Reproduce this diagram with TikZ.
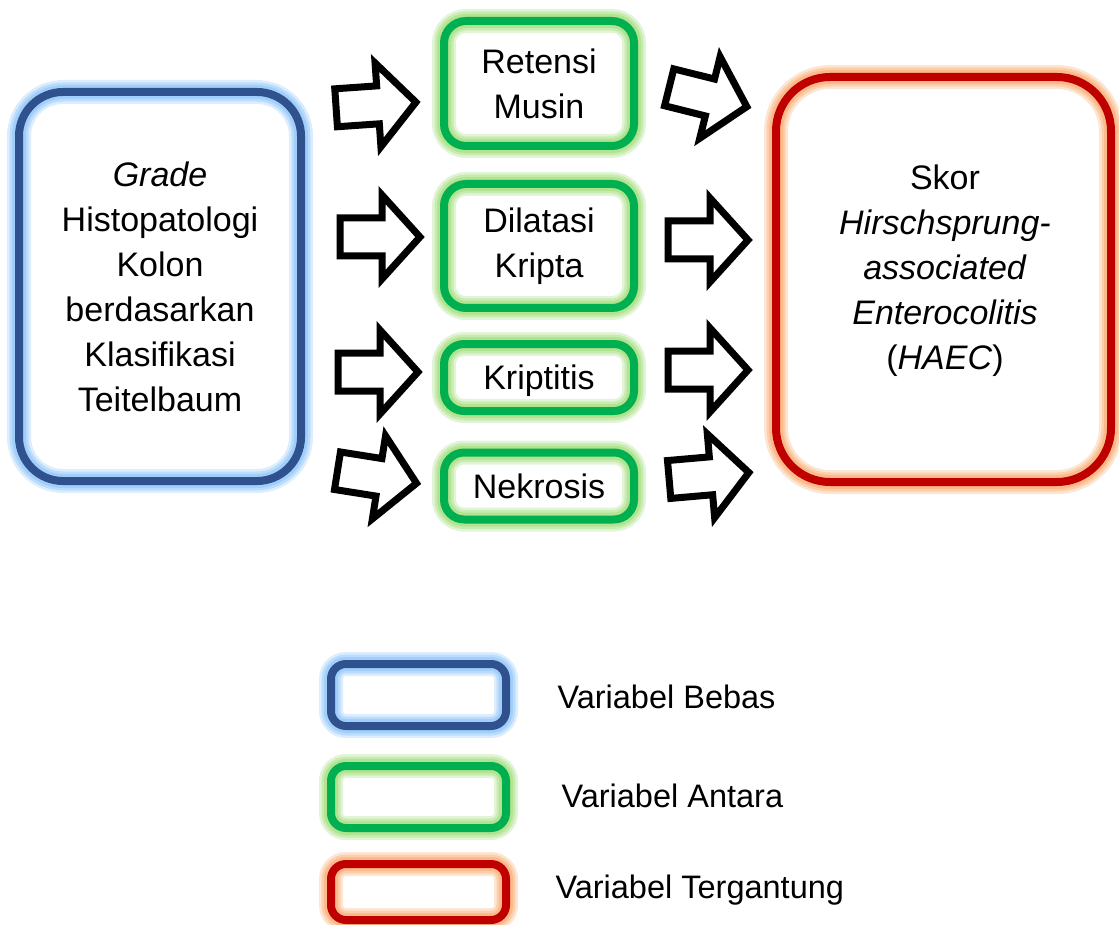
\documentclass[tikz,border=0pt]{standalone}
\usepackage{fontspec}
\setmainfont{Liberation Sans}
\definecolor{bluemain}{RGB}{47,82,143}
\definecolor{blueglow}{RGB}{140,195,250}
\definecolor{greenmain}{RGB}{0,176,80}
\definecolor{greenglow}{RGB}{160,220,120}
\definecolor{redmain}{RGB}{192,0,0}
\definecolor{redglow}{RGB}{250,170,110}
\begin{document}
\begin{tikzpicture}[x=1pt,y=-1pt,
  glow/.style={preaction={draw=#1, line width=24pt, draw opacity=0.3},
               preaction={draw=#1, line width=19pt, draw opacity=0.4},
               preaction={draw=#1, line width=14pt, draw opacity=0.55}},
  bx/.style 2 args={draw=#1, line width=8pt, glow=#2, align=center, inner sep=0pt},
  bluebox/.style={bx={bluemain}{blueglow}},
  greenbox/.style={bx={greenmain}{greenglow}},
  redbox/.style={bx={redmain}{redglow}},
  big/.style={font=\fontsize{34}{45}\selectfont},
  legtext/.style={anchor=west, font=\fontsize{32.5}{38}\selectfont},
  arrowline/.style={draw=black, line width=7pt, line join=miter, fill=white},
  blockarrow/.pic={
    \draw[arrowline] (-40,-19) -- (2,-19) -- (2,-42) -- (40,0) -- (2,42) -- (2,19) -- (-40,19) -- cycle;
  }]
\useasboundingbox (0,0) rectangle (1119,925);

% main boxes
\node[bluebox, big, minimum width=282, minimum height=389, rounded corners=44] (iv) at (160,286.5)
  {\textit{Grade}\\Histopatologi\\Kolon\\berdasarkan\\Klasifikasi\\Teitelbaum};

\node[greenbox, big, minimum width=190, minimum height=125, rounded corners=22] (m1) at (539,83.5) {Retensi\\Musin};
\node[greenbox, big, minimum width=190, minimum height=124, rounded corners=22] (m2) at (539,246) {Dilatasi\\Kripta};
\node[greenbox, big, minimum width=190, minimum height=67, rounded corners=20, text depth=0pt] (m3) at (539,377.5) {Kriptitis};
\node[greenbox, big, minimum width=190, minimum height=67, rounded corners=20] (m4) at (539,486) {Nekrosis};

\node[redbox, minimum width=335, minimum height=405, rounded corners=54] (dv) at (943.5,279.5) {};
\node[big, align=center] (dvtext) at (945,271)
  {Skor\\\textit{Hirschsprung-}\\\textit{associated}\\\textit{Enterocolitis}\\(\textit{HAEC})};

% block arrows
\pic[rotate=4] (la1) at (376,105) {blockarrow};
\pic (la2) at (380,237) {blockarrow};
\pic (la3) at (378,372) {blockarrow};
\pic[rotate=-9] (la4) at (377,477) {blockarrow};
\pic[rotate=-14] (ra1) at (708,97) {blockarrow};
\pic (ra2) at (708,240) {blockarrow};
\pic (ra3) at (708,370) {blockarrow};
\pic[rotate=5] (ra4) at (709,476) {blockarrow};

% legend
\node[bluebox, minimum width=175, minimum height=62, rounded corners=15] (lg1) at (418.5,695) {};
\node[greenbox, minimum width=175, minimum height=62, rounded corners=15] (lg2) at (418.5,797) {};
\node[redbox, minimum width=175, minimum height=56, rounded corners=15] (lg3) at (418.5,892) {};
\node[legtext] (lt1) at (554,697) {Variabel Bebas};
\node[legtext] (lt2) at (558,796) {Variabel Antara};
\node[legtext] (lt3) at (552,890) {Variabel Tergantung};
\end{tikzpicture}
\end{document}
